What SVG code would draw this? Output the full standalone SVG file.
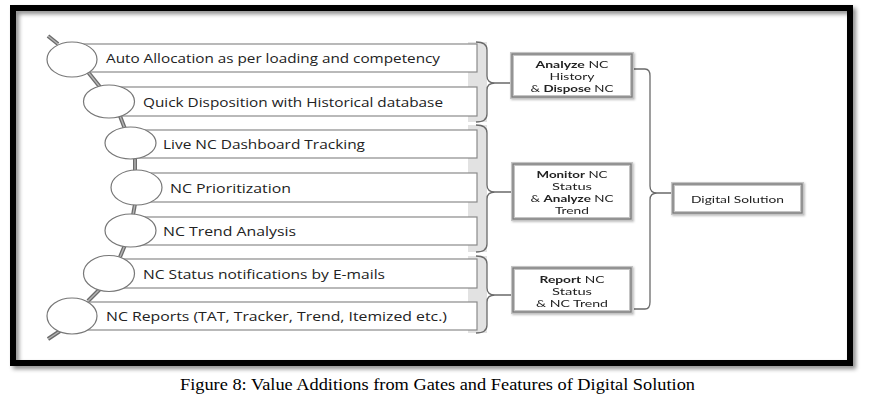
<svg xmlns="http://www.w3.org/2000/svg" width="871" height="414" viewBox="0 0 871 414">
<defs>
<filter id="sh" x="-5%" y="-5%" width="110%" height="115%">
<feDropShadow dx="3" dy="3" stdDeviation="2" flood-color="#000" flood-opacity="0.45"/>
</filter>
<filter id="bs" x="-10%" y="-10%" width="120%" height="130%">
<feDropShadow dx="1" dy="1" stdDeviation="1" flood-color="#000" flood-opacity="0.25"/>
</filter>
</defs>
<style>
.row{fill:#fff;stroke:#8a8a8a;stroke-width:1.2}
.circ{fill:#fff;stroke:#777;stroke-width:1.2}
.rt{font-family:"Open Sans","Noto Sans",sans-serif;font-size:13.5px;fill:#222}
.band{fill:#e2e2e2}
.br{fill:none;stroke:#6a6a6a;stroke-width:1.3}
.ch{stroke:#6b6b6b;stroke-width:4;stroke-linecap:butt}
.chi{stroke:#b5b5b5;stroke-width:1.4}
.bx{fill:#fff;stroke:#c4c4c4;stroke-width:4}
.bxi{fill:none;stroke:#7a7a7a;stroke-width:1.3}
.bt{font-family:Lato,"Liberation Sans",sans-serif;font-size:10px;fill:#222;text-anchor:middle}
.b{font-weight:bold}
.cap{font-family:"Liberation Serif","Times New Roman",serif;font-size:16px;fill:#000;text-anchor:middle}
</style>
<rect x="0" y="0" width="871" height="414" fill="#fff"/>
<rect x="13" y="8" width="837" height="355" fill="none" stroke="#000" stroke-width="6" filter="url(#sh)"/>

<g id="bands">
<rect class="band" x="468" y="42" width="19" height="80"/>
<rect class="band" x="468" y="125" width="19" height="127"/>
<rect class="band" x="468" y="256" width="19" height="77"/>
</g>

<g id="connectors">
<g id="chain">
<line class="ch" x1="48" y1="36" x2="58" y2="44"/><line class="chi" x1="48" y1="36" x2="58" y2="44"/>
<line class="ch" x1="88" y1="72" x2="100" y2="87"/><line class="chi" x1="88" y1="72" x2="100" y2="87"/>
<line class="ch" x1="120" y1="116" x2="125" y2="129"/><line class="chi" x1="120" y1="116" x2="125" y2="129"/>
<line class="ch" x1="135" y1="157" x2="135" y2="171"/><line class="chi" x1="135" y1="157" x2="135" y2="171"/>
<line class="ch" x1="135" y1="204" x2="133" y2="215"/><line class="chi" x1="135" y1="204" x2="133" y2="215"/>
<line class="ch" x1="125" y1="245" x2="120" y2="257"/><line class="chi" x1="125" y1="245" x2="120" y2="257"/>
<line class="ch" x1="100" y1="289" x2="88" y2="301"/><line class="chi" x1="100" y1="289" x2="88" y2="301"/>
<line class="ch" x1="60" y1="331" x2="48" y2="339"/><line class="chi" x1="60" y1="331" x2="48" y2="339"/>
</g>
<path class="br" d="M476,42 Q487,42 487,50 V76 Q487,83 495,83 H511 M495,83 Q487,83 487,90 V114 Q487,122 476,122"/>
<path class="br" d="M476,125 Q487,125 487,133 V185 Q487,192 495,192 H512 M495,192 Q487,192 487,199 V244 Q487,252 476,252"/>
<path class="br" d="M476,256 Q487,256 487,264 V288 Q487,295 495,295 H512 M495,295 Q487,295 487,302 V325 Q487,333 476,333"/>
<path class="br" d="M634,69 H645 Q650,69 650,76 V186 Q650,193 657,193 H672 M657,193 Q650,193 650,200 V302 Q650,309 645,309 H634"/>
</g>

<g id="n1"><rect class="row" x="72" y="44" width="405" height="28"/><ellipse class="circ" cx="72" cy="59.5" rx="25" ry="17.5"/><text class="rt" x="106" y="63" textLength="334" lengthAdjust="spacingAndGlyphs">Auto Allocation as per loading and competency</text></g>
<g id="n2"><rect class="row" x="109" y="87" width="368" height="29"/><ellipse class="circ" cx="109" cy="101.5" rx="25.5" ry="16.5"/><text class="rt" x="143" y="106.5" textLength="300" lengthAdjust="spacingAndGlyphs">Quick Disposition with Historical database</text></g>
<g id="n3"><rect class="row" x="130" y="130" width="347" height="28"/><ellipse class="circ" cx="130.5" cy="143" rx="25.5" ry="16"/><text class="rt" x="163" y="149" textLength="202" lengthAdjust="spacingAndGlyphs">Live NC Dashboard Tracking</text></g>
<g id="n4"><rect class="row" x="136" y="173" width="341" height="29"/><ellipse class="circ" cx="136.5" cy="187.5" rx="25.5" ry="17.5"/><text class="rt" x="170" y="192.5" textLength="121" lengthAdjust="spacingAndGlyphs">NC  Prioritization</text></g>
<g id="n5"><rect class="row" x="130" y="217" width="347" height="28"/><ellipse class="circ" cx="130.5" cy="230.5" rx="25.5" ry="16.5"/><text class="rt" x="163" y="236" textLength="133" lengthAdjust="spacingAndGlyphs">NC  Trend Analysis</text></g>
<g id="n6"><rect class="row" x="109" y="259" width="368" height="29"/><ellipse class="circ" cx="109" cy="273.5" rx="25.5" ry="18"/><text class="rt" x="143" y="278.5" textLength="242" lengthAdjust="spacingAndGlyphs">NC Status notifications by E-mails</text></g>
<g id="n7"><rect class="row" x="72" y="302" width="405" height="28"/><ellipse class="circ" cx="72" cy="316" rx="25" ry="18"/><text class="rt" x="106" y="321" textLength="341" lengthAdjust="spacingAndGlyphs">NC Reports (TAT, Tracker, Trend, Itemized etc.)</text></g>

<g id="b1" filter="url(#bs)"><rect class="bx" x="512" y="54" width="120" height="43"/><rect class="bxi" x="512" y="54" width="120" height="43"/>
<text class="bt" x="572" y="68" textLength="73" lengthAdjust="spacingAndGlyphs"><tspan class="b">Analyze</tspan> NC</text><text class="bt" x="572" y="80" textLength="45" lengthAdjust="spacingAndGlyphs">History</text><text class="bt" x="572" y="92" textLength="83" lengthAdjust="spacingAndGlyphs">&amp; <tspan class="b">Dispose</tspan> NC</text></g>
<g id="b2" filter="url(#bs)"><rect class="bx" x="513" y="164" width="118" height="55"/><rect class="bxi" x="513" y="164" width="118" height="55"/>
<text class="bt" x="572" y="178" textLength="71" lengthAdjust="spacingAndGlyphs"><tspan class="b">Monitor</tspan> NC</text><text class="bt" x="572" y="190" textLength="40" lengthAdjust="spacingAndGlyphs">Status</text><text class="bt" x="572" y="202" textLength="83" lengthAdjust="spacingAndGlyphs">&amp; <tspan class="b">Analyze</tspan> NC</text><text class="bt" x="572" y="214" textLength="34" lengthAdjust="spacingAndGlyphs">Trend</text></g>
<g id="b3" filter="url(#bs)"><rect class="bx" x="513" y="268" width="118" height="44"/><rect class="bxi" x="513" y="268" width="118" height="44"/>
<text class="bt" x="572" y="283" textLength="65" lengthAdjust="spacingAndGlyphs"><tspan class="b">Report</tspan> NC</text><text class="bt" x="572" y="295" textLength="40" lengthAdjust="spacingAndGlyphs">Status</text><text class="bt" x="572" y="307" textLength="72" lengthAdjust="spacingAndGlyphs">&amp; NC Trend</text></g>
<g id="ds" filter="url(#bs)"><rect class="bx" x="673" y="184" width="129" height="29"/><rect class="bxi" x="673" y="184" width="129" height="29"/>
<text class="bt" x="737.5" y="202.5" textLength="93" lengthAdjust="spacingAndGlyphs">Digital Solution</text></g>

<text class="cap" x="437.5" y="390" textLength="515" lengthAdjust="spacingAndGlyphs">Figure 8: Value Additions from Gates and Features of Digital Solution</text>
</svg>
